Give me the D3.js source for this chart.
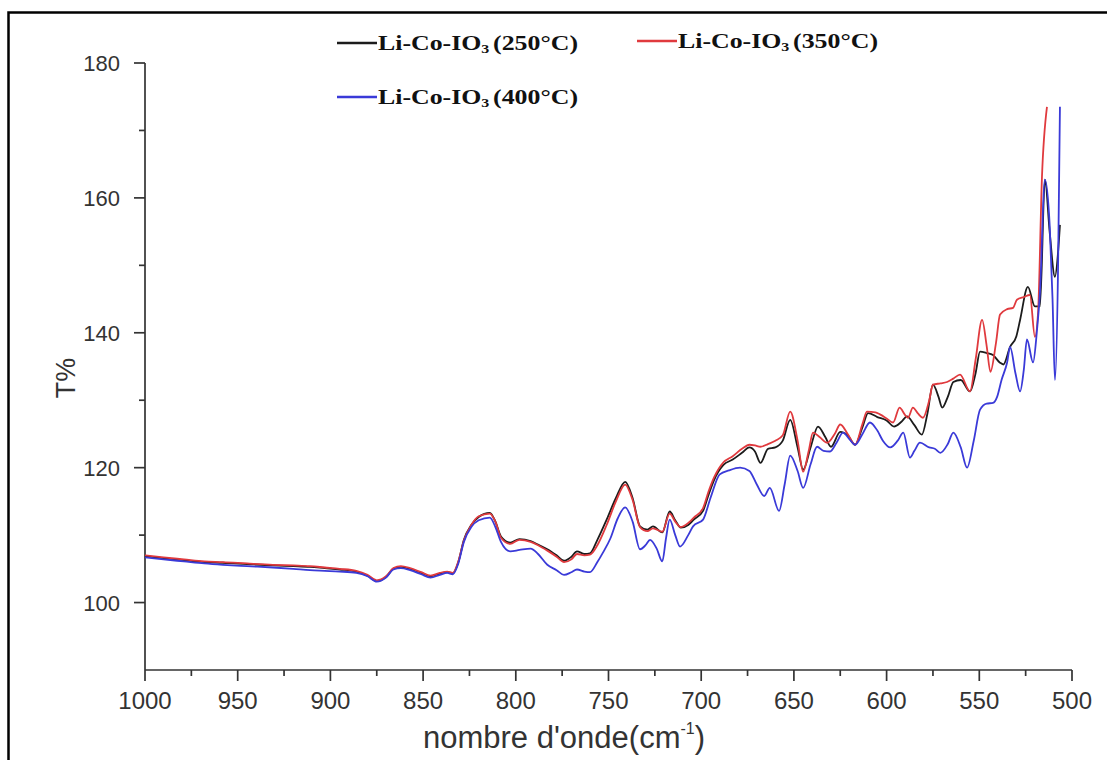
<!DOCTYPE html>
<html><head><meta charset="utf-8">
<script src="https://cdn.jsdelivr.net/npm/d3@7/dist/d3.min.js"></script>
<style>body{margin:0;background:#fff;}svg{display:block;}</style>
</head><body>
<svg id="chart" width="1107" height="760"></svg>
<script>
// ---- data ----
const seriesNames = ["Li-Co-IO3 (250°C)", "Li-Co-IO3 (350°C)", "Li-Co-IO3 (400°C)"];
const xTicks = [1000, 950, 900, 850, 800, 750, 700, 650, 600, 550, 500];
const yTicks = [100, 120, 140, 160, 180];

const wnBlack = [1000,990,979,968,958,945,931,920,911,903,895,886,880,875,870,866,862,857,851,846,841,837,834,831,828,824,820,814,811,808,803,798,792,788,783,778,774,770,767,763,760,756,751,746,741,737,733,729,726,721,717,714,711,707,704,699,696,693,688,683,678,674,671,668,664,660,656,652,648,645,641,637,633,630,625,621,617,613,610,605,600,596,592,589,585,581,578,575,572,570,567,564,560,555,552,549.6,546,542.6,539,537,533.4,530,528,523.8,520,517.3,514.6,512,509.2,507.5,506.5];
const tBlack = [106.9,106.6,106.3,106.0,105.9,105.7,105.5,105.4,105.3,105.1,104.9,104.6,104.0,103.2,103.8,105.0,105.3,105.0,104.4,103.9,104.3,104.5,104.3,106.0,109.3,111.5,112.7,113.3,112.0,109.8,108.9,109.4,109.1,108.6,107.9,107.0,106.2,106.8,107.6,107.2,107.3,109.3,112.3,115.5,117.9,115.5,111.3,110.8,111.3,110.4,113.5,112.2,111.1,111.5,112.3,113.6,116.0,118.2,120.4,121.2,122.2,123.0,122.4,120.7,122.8,123.0,124.0,127.1,123.0,119.7,123.0,126.1,124.5,123.1,125.3,124.8,123.4,126.0,128.1,127.5,127.0,126.1,126.8,127.6,126.3,124.9,128.0,132.3,130.5,128.9,130.5,132.7,133.0,131.3,134.0,137.2,137.0,136.7,135.6,135.3,137.9,139.5,141.9,146.8,143.9,143.9,162.7,154.8,148.3,152.0,156.0];

const wnRed = [1000,990,979,968,958,945,931,920,911,903,895,886,880,875,870,866,862,857,851,846,841,837,834,831,828,824,820,814,811,808,803,798,792,788,783,778,774,770,767,763,760,756,751,746,741,737,733,729,726,721,717,714,711,707,704,699,696,693,688,683,678,674,671,668,664,660,656,652,648,645,642,639.7,636,632,628,625,621,617,613,610.6,606,603.6,600,596.5,593,590,588.5,585.8,583,580.4,577,575,571,567.4,564,560.4,555,552,548.5,546,544,541,538.8,535,531.8,529.7,526,522.7,520,518.3,516.2,513.5];
const tRed = [107.0,106.7,106.4,106.1,106.0,105.8,105.6,105.5,105.4,105.2,105.0,104.7,104.1,103.3,103.9,105.1,105.4,105.1,104.5,104.0,104.4,104.6,104.4,106.1,109.2,111.5,112.8,113.2,112.0,109.6,108.7,109.3,109.0,108.5,107.7,106.8,106.0,106.4,107.2,107.0,107.1,108.5,111.5,115.0,117.5,115.2,111.2,110.6,111.0,110.5,113.2,112.0,111.2,111.8,112.6,114.0,116.5,118.6,120.8,121.7,122.8,123.4,123.3,123.1,123.5,124.0,124.8,128.3,124.0,119.4,122.5,125.2,124.5,123.7,125.0,126.4,125.0,123.4,126.5,128.3,128.2,127.9,127.3,126.7,128.9,127.8,127.4,128.9,128.0,127.4,130.0,132.3,132.5,132.7,133.2,133.8,131.3,136.0,141.9,138.0,134.2,138.5,142.7,143.5,143.7,144.9,145.3,145.6,139.4,143.0,163.1,173.5];

const wnBlue = [1000,990,979,968,958,945,931,920,911,903,895,886,880,875,870,866,862,857,851,846,841,837,834,831,828,824,820,814,811,808,803,798,792,788,783,778,774,770,767,763,760,756,753,749,745,741,737,733,730,727.6,724,721,719,717,714,711.4,707,704.4,699,695,690,685,679,674,670,666,663,658,655,652,648,645,641,637.5,634,630.5,627,623.5,620,617,613,609,605,602,598,594,591,587.4,585,582,577,574,571,567,564,560,556.6,553,549.6,546,542.6,540.4,538,535,533.4,530.5,528,526,524.3,521,519,517.3,514.6,512,510.5,509.2,507.5,506.5];
const tBlue = [106.7,106.4,106.1,105.8,105.6,105.4,105.2,105.0,104.8,104.7,104.6,104.4,103.9,103.1,103.7,104.9,105.1,104.8,104.2,103.7,104.1,104.4,104.2,105.8,109.0,111.2,112.2,112.6,111.2,109.0,107.6,107.8,108.0,107.2,105.6,104.8,104.1,104.5,104.9,104.6,104.5,106.0,107.4,109.5,112.5,114.1,112.0,107.9,108.5,109.3,108.0,106.1,109.5,112.3,110.0,108.3,110.0,111.3,112.3,115.5,119.0,119.6,120.0,119.5,117.5,115.8,117.0,113.6,117.5,121.8,119.5,117.0,120.5,123.1,122.5,122.4,123.7,125.2,124.2,123.4,125.0,126.7,125.5,124.0,123.0,124.0,125.2,121.5,122.5,123.7,123.0,122.8,122.2,123.5,125.2,123.0,120.0,124.0,128.6,129.5,129.6,130.5,133.0,135.6,137.9,134.0,131.3,134.5,139.0,135.6,140.0,145.9,162.7,155.7,145.0,133.0,150.0,173.5];

const seriesColors = ["#1c1c1c", "#e03a3e", "#3a3ad8"];

// ---- drawing ----
const svg = d3.select("#chart");
// outer frame
svg.append("rect").attr("x", 8.5).attr("y", 12.5).attr("width", 1200).attr("height", 800)
  .attr("fill", "none").attr("stroke", "#000").attr("stroke-width", 2.5);

const x = d3.scaleLinear().domain([1000, 500]).range([145, 1072]);
const y = d3.scaleLinear().domain([90, 180]).range([670, 63]);

const axisColor = "#333";
const sans = "Liberation Sans, Arial, sans-serif";
const g = svg.append("g");

// axes lines
g.append("line").attr("x1", x(1000)).attr("x2", x(500)).attr("y1", y(90)).attr("y2", y(90))
  .attr("stroke", axisColor).attr("stroke-width", 1.7);
g.append("line").attr("x1", x(1000)).attr("x2", x(1000)).attr("y1", y(90)).attr("y2", y(180))
  .attr("stroke", axisColor).attr("stroke-width", 1.7);

// x ticks
const xMinor = d3.range(975, 500, -50);
xTicks.forEach(t => {
  g.append("line").attr("x1", x(t)).attr("x2", x(t)).attr("y1", y(90)).attr("y2", y(90) + 11)
    .attr("stroke", axisColor).attr("stroke-width", 1.7);
  g.append("text").attr("x", x(t)).attr("y", 709).attr("text-anchor", "middle")
    .attr("font-family", sans).attr("font-size", 24).attr("fill", "#333").text(t);
});
xMinor.forEach(t => {
  g.append("line").attr("x1", x(t)).attr("x2", x(t)).attr("y1", y(90)).attr("y2", y(90) + 6)
    .attr("stroke", axisColor).attr("stroke-width", 1.7);
});
// y ticks
const yMinor = d3.range(110, 180, 20);
yTicks.forEach(t => {
  g.append("line").attr("x1", x(1000) - 11).attr("x2", x(1000)).attr("y1", y(t)).attr("y2", y(t))
    .attr("stroke", axisColor).attr("stroke-width", 1.7);
  g.append("text").attr("x", 120).attr("y", y(t) + 8).attr("text-anchor", "end")
    .attr("font-family", sans).attr("font-size", 22).attr("fill", "#333").text(t);
});
yMinor.forEach(t => {
  g.append("line").attr("x1", x(1000) - 6).attr("x2", x(1000)).attr("y1", y(t)).attr("y2", y(t))
    .attr("stroke", axisColor).attr("stroke-width", 1.7);
});

// axis titles
const xt = g.append("text").attr("x", 564).attr("y", 748).attr("text-anchor", "middle")
  .attr("font-family", sans).attr("font-size", 31).attr("fill", "#333");
xt.append("tspan").text("nombre d'onde(cm");
xt.append("tspan").attr("font-size", 16).attr("dy", -14).text("-1");
xt.append("tspan").attr("dy", 14).text(")");
g.append("text").attr("transform", "translate(75,378) rotate(-90)").attr("text-anchor", "middle")
  .attr("font-family", sans).attr("font-size", 27).attr("fill", "#333").text("T%");

// lines
const series = [
  {wn: wnBlack, t: tBlack},
  {wn: wnRed, t: tRed},
  {wn: wnBlue, t: tBlue}
];
const line = d3.line().x(d => x(d[0])).y(d => y(d[1])).curve(d3.curveMonotoneX);
series.forEach((s, i) => {
  const pts = s.wn.map((w, k) => [w, s.t[k]]);
  g.append("path").attr("d", line(pts)).attr("fill", "none")
    .attr("stroke", seriesColors[i]).attr("stroke-width", 1.8).attr("stroke-linejoin", "round");
});

// legend
const legendPos = [[337, 43], [637, 41], [337, 97]];
seriesNames.forEach((name, i) => {
  const [lx, ly] = legendPos[i];
  g.append("line").attr("x1", lx).attr("x2", lx + 40).attr("y1", ly).attr("y2", ly)
    .attr("stroke", seriesColors[i]).attr("stroke-width", 2.4);
  const tx = g.append("text").attr("x", lx + 41).attr("y", ly + 7)
    .attr("font-family", "Liberation Serif, Times New Roman, serif").attr("font-weight", "bold")
    .attr("font-size", 21).attr("fill", "#111")
    .attr("textLength", 200).attr("lengthAdjust", "spacingAndGlyphs");
  const parts = name.split("IO3");
  tx.append("tspan").text(parts[0] + "IO");
  tx.append("tspan").attr("font-size", 13).attr("dy", 3).text("3");
  tx.append("tspan").attr("dy", -3).attr("dx", 3).text(parts[1].trim());
});
</script>
</body></html>
